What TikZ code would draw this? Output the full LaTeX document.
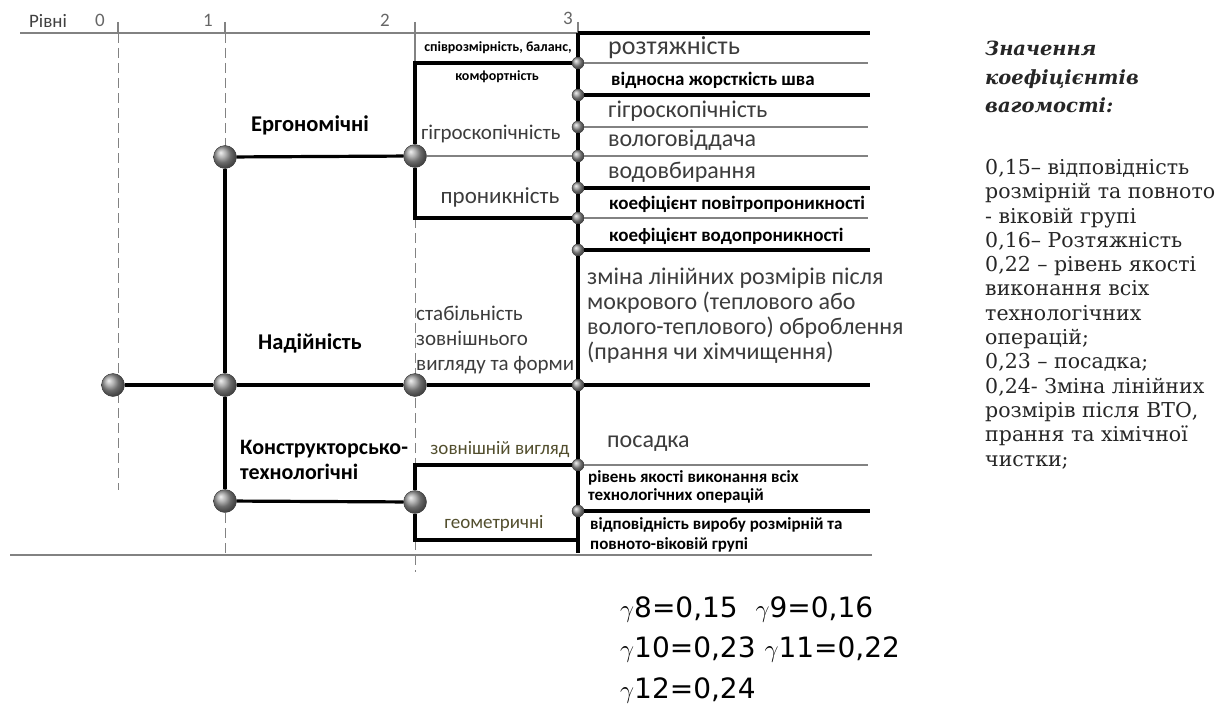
\documentclass[tikz,border=0pt]{standalone}
\usepackage{fontspec}
\setmainfont{Carlito}
\newfontfamily\legendfont{DejaVu Serif}
\newfontfamily\weightfont{DejaVu Sans}
\usetikzlibrary{positioning}
\definecolor{linegray}{RGB}{130,130,130}
\definecolor{txt}{RGB}{60,60,60}
\newcommand{\drawthick}{\draw[line width=3.2pt]}
\newcommand{\drawthin}{\draw[line width=1.1pt, linegray]}
\newcommand{\drawdash}{\draw[line width=1pt, linegray, dash pattern=on 10pt off 5pt]}
\newcommand{\gam}{{\fontsize{37}{37}\selectfont$\gamma$}}
\tikzset{
  bigdot/.style={circle, draw=black!80, ball color=gray!80, minimum size=23pt, inner sep=0pt},
  smalldot/.style={circle, draw=black!80, ball color=gray!80, minimum size=12pt, inner sep=0pt},
  reg/.style={inner sep=0pt, anchor=west, text=txt, font=\fontsize{24}{25}\selectfont},
  bsmall/.style={inner sep=0pt, anchor=west, font=\bfseries\fontsize{19}{20}\selectfont},
  head/.style={inner sep=0pt, font=\bfseries\fontsize{22.5}{25}\selectfont},
  mid/.style={inner sep=0pt, text=txt, font=\fontsize{21}{25}\selectfont},
  tiny/.style={inner sep=0pt, font=\bfseries\fontsize{14}{16}\selectfont},
  levelnum/.style={inner sep=0pt, text=black!60, font=\fontsize{19}{20}\selectfont},
  legend/.style={inner sep=0pt, anchor=north west, align=left, text=black!85,
    font=\legendfont\fontsize{20.5}{24.3}\selectfont}
}
\begin{document}
\begin{tikzpicture}[x=1pt,y=-1pt]
\useasboundingbox (0,0) rectangle (1228,725);
% levels scale
\drawthin (20,33)--(578,33);
\node[levelnum, text=black!75] at (48,21) {Рівні};
\node[levelnum] at (100,20) {0};
\node[levelnum] at (208,20) {1};
\node[levelnum] at (385,20) {2};
\node[levelnum] at (568,18) {3};
\foreach \x in {118,225,415,578}{
  \drawthin (\x,22)--(\x,33);
}
\drawdash (118,33)--(118,490);
\drawdash (225,33)--(225,557);
\drawthin (415,33)--(415,63);
\drawdash (415,218)--(415,465);
\drawdash (415,540)--(415,572);
\drawthin (10,555)--(872,555);
% dots
\node[bigdot] (lev0) at (113,385) {};
\node[bigdot] (erg1) at (225,157) {};
\node[bigdot] (nad1) at (225,385) {};
\node[bigdot] (kon1) at (225,501) {};
\node[bigdot] (erg2) at (415,156) {};
\node[bigdot] (nad2) at (415,385) {};
\node[bigdot] (kon2) at (415,502) {};
\foreach \y [count=\i] in {63,95,127,156,188,218,250,385,465,511}{
  \node[smalldot] (p\i) at (578,\y) {};
}
\coordinate (top3) at (578,33);
\coordinate (bot3) at (578,553);
\coordinate (kbot) at (578,540);
% level 3 branches
\drawthick (top3)--(p1)--(p2)--(p3)--(p4)--(p5)--(p6)--(p7)--(p8)--(p9)--(p10)--(bot3);
\drawthick (top3)--++(292,0);
\foreach \i in {2,5,7,8,10}{
  \drawthick (p\i)--++(292,0);
}
\foreach \i in {1,3,4,6,9}{
  \drawthin (p\i)--++(290,0);
}
% levels 0-2
\drawthick (lev0)--(nad1)--(nad2)--(p8);
\drawthick (erg1)--(nad1)--(kon1);
\drawthick (erg1)--(erg2);
\drawthick (kon1)--(kon2);
\drawthick (erg2)|-(p1);
\drawthick (erg2)|-(p6);
\drawthin (erg2)--(p4);
\drawthick (kon2)|-(p9);
\drawthick (kon2)|-(kbot);
% texts, levels 1 and 2
\node[head] at (310,125) {Ергономічні};
\node[head] at (310,343) {Надійність};
\node[head, anchor=west, align=left, font=\bfseries\fontsize{22}{25}\selectfont] at (240,460) {Конструкторсько-\\технологічні};
\node[tiny] at (498,48) {співрозмірність, баланс,};
\node[tiny] at (497,77) {комфортність};
\node[mid, anchor=west] at (421,134) {гігроскопічність};
\node[mid, font=\fontsize{23}{25}\selectfont] at (500,197) {проникність};
\node[mid, anchor=west, align=left] at (416,340) {стабільність\\зовнішнього\\вигляду та форми};
\node[mid, text=black!55!olive, font=\fontsize{19}{20}\selectfont] at (500,450) {зовнішній вигляд};
\node[mid, text=black!55!olive, font=\fontsize{19}{20}\selectfont] at (494,523) {геометричні};
% texts, level 3
\node[reg, font=\fontsize{26}{25}\selectfont] at (608,48) {розтяжність};
\node[bsmall] at (611,80) {відносна жорсткість шва};
\node[reg] at (608,111) {гігроскопічність};
\node[reg] at (608,140) {вологовіддача};
\node[reg] at (608,172) {водовбирання};
\node[bsmall] at (609,204) {коефіцієнт повітропроникності};
\node[bsmall] at (609,236) {коефіцієнт водопроникності};
\node[reg, align=left] at (587,316) {зміна лінійних розмірів після\\мокрового (теплового або\\волого-теплового) оброблення\\(прання чи хімчищення)};
\node[reg] at (607,444) {посадка};
\node[bsmall, align=left, font=\bfseries\fontsize{17}{18}\selectfont] at (588,487) {рівень якості виконання всіх\\технологічних операцій};
\node[bsmall, align=left, font=\bfseries\fontsize{17}{20}\selectfont] at (590,535) {відповідність виробу розмірній та\\повното-віковій групі};
% legend
\node[legend, font=\legendfont\bfseries\itshape\fontsize{19.5}{28.5}\selectfont] (legtitle) at (985,41)
  {Значення\\коефіцієнтів\\вагомості:};
\node[legend] (legend) at (985,159) {0,15– відповідність\\розмірній та повното\\- віковій групі\\0,16– Розтяжність\\0,22 – рівень якості\\виконання всіх\\технологічних\\операцій;\\0,23 – посадка;\\0,24- Зміна лінійних\\розмірів після ВТО,\\прання та хімічної\\чистки;};
% weights
\node[inner sep=0pt, anchor=west, font=\weightfont\fontsize{28}{40.5}\selectfont, align=left] (gam) at (620,650)
  {\gam8=0,15\ \ \gam9=0,16\\\gam10=0,23 \gam11=0,22\\\gam12=0,24};
\end{tikzpicture}
\end{document}
